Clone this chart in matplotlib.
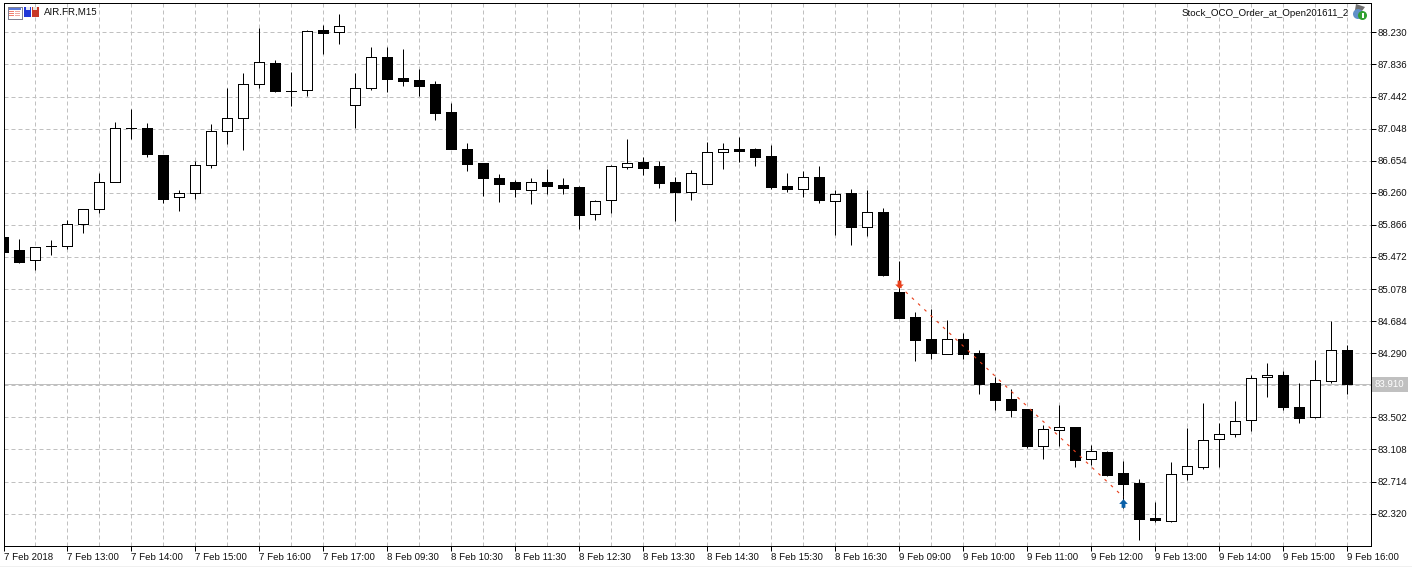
import numpy as np
import matplotlib
matplotlib.use("Agg")
import matplotlib.pyplot as plt
from matplotlib.patches import Rectangle, Circle, Polygon
from matplotlib.path import Path
from matplotlib.transforms import Affine2D

opens = [85.714,85.554,85.431,85.603,85.611,85.873,86.058,86.389,87.052,87.052,86.721,86.205,86.254,86.598,87.016,87.175,
         87.593,87.851,87.507,87.519,88.256,88.231,87.335,87.544,87.924,87.670,87.646,87.596,87.252,86.798,86.626,86.442,
         86.393,86.298,86.393,86.356,86.332,85.996,86.168,86.581,86.639,86.589,86.393,86.266,86.374,86.765,86.798,86.798,
         86.712,86.344,86.311,86.454,86.163,86.258,85.844,86.024,85.042,84.735,84.465,84.284,84.465,84.293,83.921,83.728,
         83.605,83.154,83.344,83.384,82.995,83.077,82.819,82.696,82.266,82.233,82.803,82.897,83.233,83.302,83.466,83.994,
         84.023,83.630,83.511,83.953,84.326]
highs = [85.714,85.693,85.591,85.681,85.926,86.058,86.503,87.130,87.289,87.117,86.721,86.295,86.647,87.105,87.551,87.732,
         88.284,87.888,87.744,88.260,88.321,88.456,87.732,88.051,88.051,88.026,87.781,87.630,87.363,86.872,86.626,86.491,
         86.417,86.442,86.553,86.442,86.344,86.172,86.602,86.921,86.700,86.651,86.454,86.540,86.884,86.872,86.946,86.810,
         86.847,86.503,86.528,86.589,86.295,86.307,86.295,86.074,85.423,84.796,84.833,84.698,84.538,84.330,83.998,83.851,
         83.605,83.409,83.654,83.384,83.163,83.089,82.967,82.745,82.463,82.954,83.372,83.679,83.433,83.703,84.023,84.170,
         84.072,83.924,84.207,84.686,84.391]
lows = [85.537,85.398,85.312,85.496,85.570,85.770,86.012,86.389,86.925,86.704,86.139,86.040,86.188,86.569,86.860,86.790,
        87.547,87.502,87.326,87.449,87.969,88.091,87.056,87.523,87.498,87.576,87.453,87.158,86.802,86.532,86.221,86.151,
        86.212,86.126,86.249,86.249,85.819,85.930,86.012,86.556,86.483,86.323,85.918,86.176,86.374,86.553,86.639,86.589,
        86.307,86.270,86.209,86.135,85.742,85.619,85.730,85.238,84.723,84.195,84.219,84.284,84.219,83.789,83.593,83.507,
        83.126,82.995,83.151,82.897,82.914,82.782,82.389,81.996,82.217,82.217,82.733,82.868,82.893,83.261,83.335,83.752,
        83.593,83.433,83.498,83.928,83.789]
closes = [85.537,85.414,85.591,85.603,85.873,86.058,86.389,87.052,87.052,86.740,86.188,86.254,86.598,87.016,87.175,87.593,
          87.863,87.514,87.507,88.244,88.226,88.305,87.544,87.924,87.662,87.637,87.576,87.244,86.802,86.618,86.446,86.372,
          86.311,86.389,86.347,86.323,85.991,86.156,86.586,86.623,86.569,86.384,86.270,86.500,86.758,86.794,86.777,86.700,
          86.332,86.307,86.451,86.172,86.242,85.840,86.021,85.251,84.723,84.453,84.293,84.461,84.281,83.912,83.716,83.593,
          83.151,83.356,83.380,82.979,83.086,82.795,82.688,82.254,82.242,82.803,82.901,83.221,83.294,83.454,83.982,84.019,
          83.630,83.498,83.958,84.326,83.916]

price_ticks = [88.230,87.836,87.442,87.048,86.654,86.260,85.866,85.472,85.078,84.684,84.290,83.896,83.502,83.108,82.714,82.320]
price_labels = ["88.230","87.836","87.442","87.048","86.654","86.260","85.866","85.472","85.078","84.684","84.290","",
                "83.502","83.108","82.714","82.320"]
time_labels = ["7 Feb 2018","7 Feb 13:00","7 Feb 14:00","7 Feb 15:00","7 Feb 16:00","7 Feb 17:00",
               "8 Feb 09:30","8 Feb 10:30","8 Feb 11:30","8 Feb 12:30","8 Feb 13:30","8 Feb 14:30","8 Feb 15:30","8 Feb 16:30",
               "9 Feb 09:00","9 Feb 10:00","9 Feb 11:00","9 Feb 12:00","9 Feb 13:00","9 Feb 14:00","9 Feb 15:00","9 Feb 16:00"]
last_price = 83.910
trade_bars = [56, 70]
trade_prices = [85.116, 82.524]
sell_arrow_price = 85.140
buy_arrow_price = 82.451

W, H = 1412, 567
plt.rcParams["font.family"] = ["Liberation Sans", "DejaVu Sans"]
plt.rcParams["font.size"] = 7.0
plt.rcParams["text.hinting"] = "native"
PX = 0.72

fig = plt.figure(figsize=(W / 100, H / 100), dpi=100, facecolor="white")
L, R, T, B = 3.5, 1370.5, 2.5, 545.5
ax = fig.add_axes([L / W, 1 - B / H, (R - L) / W, (B - T) / H], facecolor="white")

x = np.arange(len(opens))
o, h, l, c = map(np.array, (opens, highs, lows, closes))
ax.set_xlim((L - 3.4) / 16, (R - 3.4) / 16)
ax.set_ylim(88.628 - 0.012281 * B, 88.628 - 0.012281 * T)

major = x[::4]
ax.set_xticks(major)
ax.set_xticklabels(time_labels, ha="left")
ax.set_xticks(x[::2], minor=True)
ax.set_yticks(price_ticks)
ax.set_yticklabels(price_labels)
ax.yaxis.tick_right()
ax.tick_params(axis="x", which="major", length=5.2 * PX, width=PX, pad=1.6, color="black", labelcolor="#101010")
ax.tick_params(axis="x", which="minor", length=0)
ax.tick_params(axis="y", length=4.5 * PX, width=PX, pad=1.5, color="black", labelcolor="#101010")
ax.set_axisbelow(True)
ax.grid(True, which="both", color="#c0c0c0", lw=PX, ls=(0, (4, 3)))
for s in ax.spines.values():
    s.set_linewidth(PX)
    s.set_color("black")

ax.axhline(last_price, color="#c0c0c0", lw=PX, zorder=1.5)
ax.text(1 + 4.5 / (R - L), last_price, f"{last_price:.3f}", transform=ax.get_yaxis_transform(),
        color="white", va="center", ha="left", zorder=5, clip_on=False,
        bbox=dict(fc="#c0c0c0", ec="none", boxstyle="square,pad=0.3"))

ax.vlines(x, l, h, color="black", lw=PX, zorder=2)
body_colors = ["black" if cc < oo else "white" for oo, cc in zip(o, c)]
ax.bar(x, np.abs(c - o), bottom=np.minimum(o, c), width=10 / 16, color=body_colors,
       edgecolor="black", linewidth=PX, zorder=3, antialiased=False)

ax.plot(trade_bars, trade_prices, color="#e8401c", lw=PX + 0.1, ls=(0, (2.5, 5)), zorder=4)
down = Path([(-0.5, 0.0), (-0.22, 0.0), (-0.22, 0.45), (0.22, 0.45), (0.22, 0.0), (0.5, 0.0), (0, -0.5), (-0.5, 0.0)])
up = Path([(-0.5, -0.05), (-0.22, -0.05), (-0.22, -0.5), (0.22, -0.5), (0.22, -0.05), (0.5, -0.05), (0, 0.5), (-0.5, -0.05)])
ax.plot([trade_bars[0]], [sell_arrow_price], marker=down, ms=6.2, color="#e8401c", mec="none", zorder=5)
ax.plot([trade_bars[1]], [buy_arrow_price], marker=up, ms=6.2, color="#0a60a8", mec="none", zorder=5)

# window furniture, placed in pixels from the top left
px = Affine2D().scale(1, -1).translate(0, H)
def rect(x0, y0, x1, y1, fc, ec="none"):
    fig.add_artist(Rectangle((x0, y0), x1 - x0, y1 - y0, fc=fc, ec=ec, lw=PX, transform=px, antialiased=False))
rect(7.5, 6.5, 21.5, 18.5, "white", "#808090")
rect(9, 8, 21, 10, "#5a78d8")
for yy in (11, 13, 15):
    rect(9, yy, 14, yy + 1, "#f08070")
    rect(15, yy, 20, yy + 1, "#f0a8a0")
rect(24, 7, 31, 17, "#2038d8")
rect(26, 7, 30, 10, "#e8e8f0")
rect(32, 7, 39, 17, "#c83828")
rect(33, 7, 37, 10, "#e8e8e0")
fig.add_artist(Polygon([(1356, 4), (1365, 7), (1362, 11), (1355, 10)], fc="#707070", ec="none", transform=px))
fig.add_artist(Circle((1358, 14), 5, fc="#6090c8", ec="none", transform=px))
fig.add_artist(Circle((1362.5, 15.5), 4.5, fc="#30a030", ec="none", transform=px))
rect(1362, 13, 1364, 18, "white")
rect(0, 565.5, W, 567, "#f0f0f0")

fig.text(44 / W, 1 - 12.5 / H, "AIR.FR,M15", va="center", ha="left", color="#101010")
fig.text(1349 / W, 1 - 13.5 / H, "Stock_OCO_Order_at_Open201611_2", va="center", ha="right", color="#101010")

fig.savefig("out.png", dpi=100, facecolor="white")
